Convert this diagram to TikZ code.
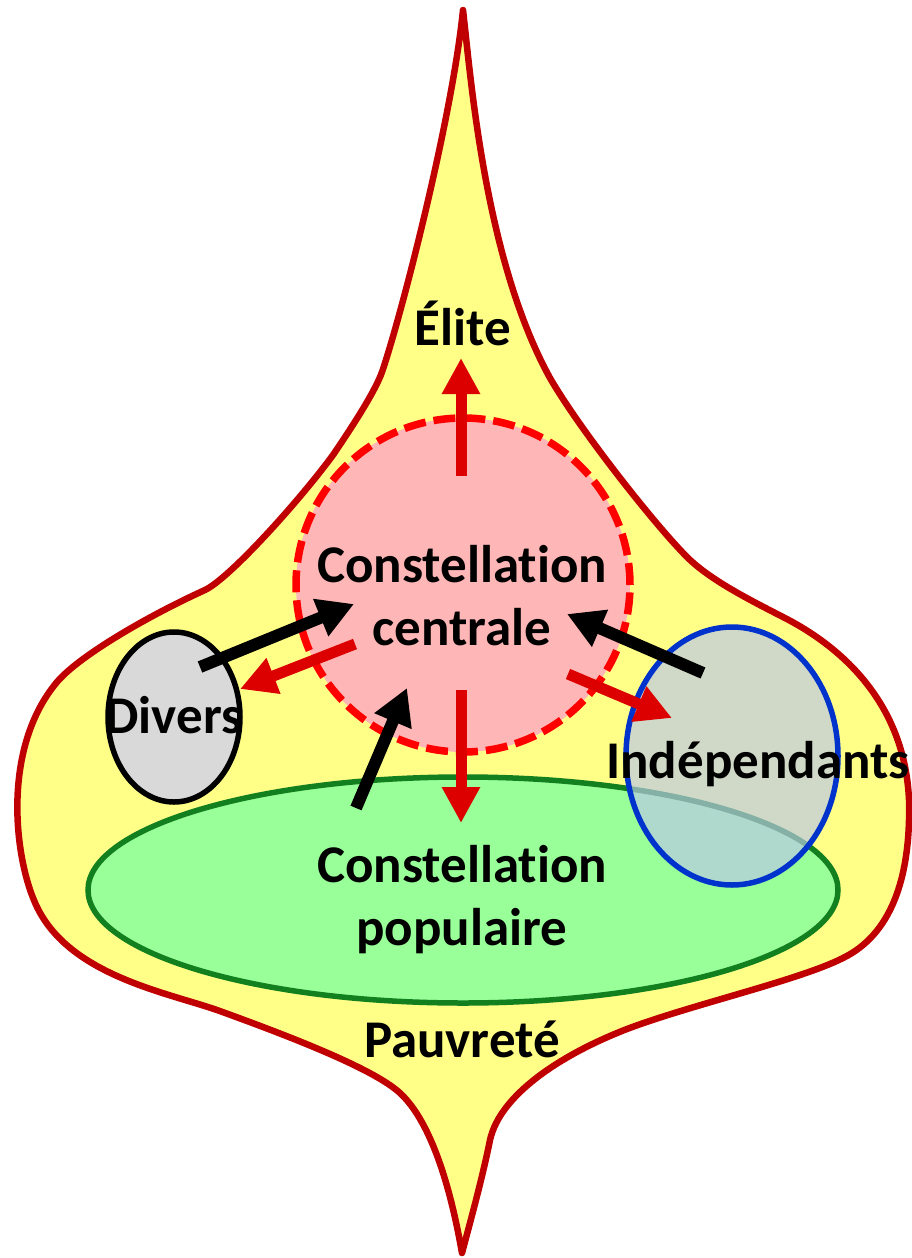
\documentclass[tikz,border=0pt]{standalone}
\usepackage{fontspec}
\setmainfont{Carlito}[Ligatures=NoCommon]
\usetikzlibrary{shapes.geometric,arrows.meta}
\definecolor{outlinered}{RGB}{192,0,0}
\definecolor{paleyellow}{RGB}{255,255,136}
\definecolor{pinkfill}{RGB}{255,182,182}
\definecolor{greenfill}{RGB}{153,255,153}
\definecolor{greenline}{RGB}{19,128,32}
\definecolor{greyfill}{RGB}{217,217,217}
\definecolor{blueline}{RGB}{0,51,204}
\definecolor{bluefill}{RGB}{186,200,230}
\definecolor{arrowred}{RGB}{221,0,0}
\begin{document}
\begin{tikzpicture}[x=1pt,y=-1pt,
  lbl/.style={anchor=base,inner sep=0pt,font=\fontsize{53}{64}\selectfont\bfseries},
  redarrow/.style={draw=arrowred,line width=11pt,-{Triangle[width=36pt,length=36pt]}},
  blackarrow/.style={draw=black,line width=12pt,-{Triangle[width=38pt,length=36pt]}}]
\useasboundingbox (0,0) rectangle (912,1258);
% outer shape
\draw[outlinered,line width=6.5pt,fill=paleyellow,line join=round]
  (463,10) .. controls (471,80) and (485,260) .. (550,378)
  .. controls (580,430) and (655,525) .. (687,557)
  .. controls (710,580) and (750,600) .. (783,617)
  .. controls (850,651) and (905,710) .. (909,800)
  .. controls (911,880) and (890,935) .. (843,958)
  .. controls (800,980) and (690,1005) .. (627,1029)
  .. controls (560,1055) and (500,1095) .. (490,1140)
  .. controls (482,1180) and (468,1230) .. (462,1253)
  .. controls (457,1225) and (440,1130) .. (400,1093)
  .. controls (375,1070) and (300,1040) .. (217,1010)
  .. controls (165,992) and (70,975) .. (37,907)
  .. controls (15,862) and (0,750) .. (57,682)
  .. controls (80,655) and (150,615) .. (205,590)
  .. controls (230,578) and (300,500) .. (333,455)
  .. controls (350,430) and (375,392) .. (382,372)
  .. controls (400,320) and (452,120) .. (463,10) -- cycle;
% central constellation
\node[circle,draw=red,fill=pinkfill,line width=7.5pt,dash pattern=on 22pt off 8pt,
  minimum size=334pt,inner sep=0pt] (central) at (463,585) {};
% popular constellation
\node[ellipse,draw=greenline,fill=greenfill,line width=5.5pt,
  minimum width=750pt,minimum height=226pt,inner sep=0pt] (popul) at (463,890) {};
% divers
\node[ellipse,draw=black,fill=greyfill,line width=5.5pt,
  minimum width=132pt,minimum height=170pt,inner sep=0pt] (divers) at (174,717) {};
% independants
\node[ellipse,draw=blueline,fill=bluefill,fill opacity=0.68,line width=5.5pt,
  minimum width=212pt,minimum height=258pt,inner sep=0pt] (indep) at (732,756) {};
% arrow end points
\coordinate (upS) at (461,476);   \coordinate (upE) at (461,358);
\coordinate (dnS) at (461,690);   \coordinate (dnE) at (461,823);
\coordinate (ltS) at (355,644);   \coordinate (ltE) at (240,689);
\coordinate (rtS) at (568,674);   \coordinate (rtE) at (672,718);
\coordinate (dvS) at (200,667);   \coordinate (dvE) at (354,604);
\coordinate (ppS) at (356,808);   \coordinate (ppE) at (407,688);
\coordinate (inS) at (703,673);   \coordinate (inE) at (567,614);
\draw[redarrow] (upS) -- (upE);
\draw[redarrow] (dnS) -- (dnE);
\draw[redarrow] (ltS) -- (ltE);
\draw[redarrow] (rtS) -- (rtE);
\draw[blackarrow] (dvS) -- (dvE);
\draw[blackarrow] (ppS) -- (ppE);
\draw[blackarrow] (inS) -- (inE);
% labels
\node[lbl] (elite) at (463,345) {Élite};
\node[lbl] (cc1) at (462,582) {Constellation};
\node[lbl] (cc2) at (462,645) {centrale};
\node[lbl] (dv) at (174,733) {Divers};
\node[lbl] (ind) at (758,778) {Indépendants};
\node[lbl] (cp1) at (462,882) {Constellation};
\node[lbl] (cp2) at (462,945) {populaire};
\node[lbl] (pv) at (462,1057) {Pauvreté};
\end{tikzpicture}
\end{document}
